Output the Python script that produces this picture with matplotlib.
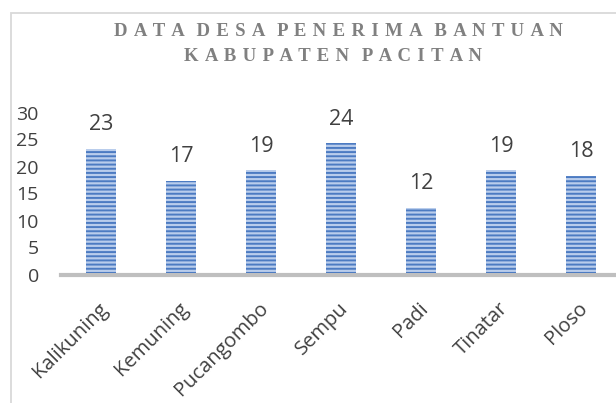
import matplotlib.pyplot as plt
import matplotlib.transforms as mtransforms
from matplotlib.patches import Rectangle

plt.rcParams['hatch.linewidth'] = 1.4

# data
desa = ['Kalikuning', 'Kemuning', 'Pucangombo', 'Sempu', 'Padi', 'Tinatar', 'Ploso']
jumlah = [23, 17, 19, 24, 12, 19, 18]
yticks = [0, 5, 10, 15, 20, 25, 30]

W, H = 616, 403
fig = plt.figure(figsize=(W / 100, H / 100), dpi=100)

# bingkai chart (gambar terpotong di kanan/bawah)
fig.patches.append(Rectangle((10.5 / W, -0.1), 1.2, (H - 12.5) / H + 0.1, transform=fig.transFigure,
                             fill=False, edgecolor='#d9d9d9', linewidth=1.3))

# posisi axes dalam piksel: kiri 61, kanan 621 (di luar gambar), dasar y=273, atas(30) y=111
ax = fig.add_axes([61 / W, (H - 273) / H, 560 / W, 162 / H])

# garis sumbu dulu (set_position me-reset tick)
for s in ['top', 'right', 'left']:
    ax.spines[s].set_visible(False)
ax.spines['bottom'].set_position(('outward', 1.5))
ax.spines['bottom'].set_color('#bfbfbf')
ax.spines['bottom'].set_linewidth(3)
ax.spines['bottom'].set_zorder(1)

x = range(len(desa))
ax.bar(x, jumlah, width=0.375, color='#b9cdec', edgecolor='#4c7bc2', hatch='----',
       linewidth=0, zorder=2)

for i, v in zip(x, jumlah):
    ax.text(i, v + 4.5, str(v), ha='center', va='center', fontsize=15.5,
            color='#404040', family='Open Sans')

ax.set_xlim(-0.5, 6.5)
ax.set_ylim(0, 30)
ax.set_yticks(yticks)
ax.set_yticklabels([str(t) for t in yticks], fontsize=14, color='#404040', family='Open Sans')
ax.tick_params(axis='y', length=0, pad=16)
ax.set_xticks(list(x))
ax.set_xticklabels(desa, rotation=45, ha='right', rotation_mode='anchor',
                   fontsize=14.5, color='#404040', family='Open Sans')
ax.tick_params(axis='x', length=0, pad=17)
offset = mtransforms.ScaledTranslation(-3 / 100, 0, fig.dpi_scale_trans)
for lbl in ax.get_xticklabels():
    lbl.set_transform(lbl.get_transform() + offset)
offset_y = mtransforms.ScaledTranslation(0, -1.5 / 100, fig.dpi_scale_trans)
for lbl in ax.get_yticklabels():
    lbl.set_transform(lbl.get_transform() + offset_y)

judul1 = 'DATA DESA PENERIMA BANTUAN'
judul2 = 'KABUPATEN PACITAN'
def renggang(s):
    sp = ' \u200a'
    return (sp + sp).join(sp.join(w) for w in s.split(' '))
fig.text(338 / W, 1 - 31.5 / H, renggang(judul1), ha='center', va='center', fontsize=13.5,
         fontweight='bold', color='#808080', family=['Liberation Serif', 'DejaVu Serif'])
fig.text(333 / W, 1 - 56.5 / H, renggang(judul2), ha='center', va='center', fontsize=13.5,
         fontweight='bold', color='#808080', family=['Liberation Serif', 'DejaVu Serif'])

fig.savefig('out.png', dpi=100)
